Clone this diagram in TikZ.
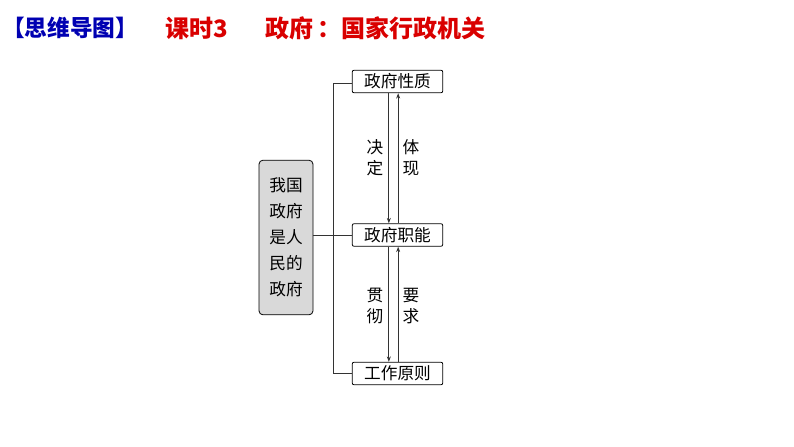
\documentclass[tikz,border=0pt]{standalone}
\usepackage{fontspec}
\usetikzlibrary{arrows.meta}
\newfontfamily\cjk{Noto Sans CJK SC}
\begin{document}
\begin{tikzpicture}[x=0.75pt,y=-0.75pt,
  box/.style={draw,rounded corners=1.5pt,line width=0.6pt,minimum width=68pt,minimum height=17pt,inner sep=0pt,font=\cjk\fontsize{12.5}{14}\selectfont},
  lbl/.style={font=\cjk\fontsize{12.5}{16}\selectfont,align=center,inner sep=0pt},
  ttl/.style={anchor=west,inner sep=0pt,text=red!85!black,font=\cjk\bfseries\fontsize{18}{20}\selectfont},
  ln/.style={line width=0.6pt,draw=black!80}]
\useasboundingbox (0,0) rectangle (794,447);
\node[anchor=west,inner sep=0pt,text=blue!70!black,font=\cjk\bfseries\fontsize{17}{20}\selectfont] (t1) at (2,28) {【思维导图】};
\node[ttl] (t2) at (165,28) {课时3};
\node[ttl] (t3) at (265,28) {政府\,：国家行政机关};
\node[box] (a) at (397.5,81.5) {政府性质};
\node[box] (b) at (397.5,235) {政府职能};
\node[box] (c) at (397.5,373.5) {工作原则};
\node[draw,fill=black!15,rounded corners=3pt,line width=0.6pt,minimum width=40.5pt,minimum height=116pt,inner sep=0pt,align=center,font=\cjk\fontsize{12.5}{19.5}\selectfont] (l) at (286,237.5) {我国\\政府\\是人\\民的\\政府};
\coordinate (k1) at (333,83);
\coordinate (k2) at (333,373);
\draw[ln] (a.west|-k1) -- (k1) -- (k2) -- (c.west|-k2);
\draw[ln] (l.east|-b.west) -- (b.west);
\draw[ln,-{Stealth[length=4pt,width=3pt]}] ([xshift=-6.5pt]a.south) -- ([xshift=-6.5pt]b.north);
\draw[ln,-{Stealth[length=4pt,width=3pt]}] ([xshift=0.5pt]b.north) -- ([xshift=0.5pt]a.south);
\draw[ln,-{Stealth[length=4pt,width=3pt]}] ([xshift=-6.5pt]b.south) -- ([xshift=-6.5pt]c.north);
\draw[ln,-{Stealth[length=4pt,width=3pt]}] ([xshift=0.5pt]c.north) -- ([xshift=0.5pt]b.south);
\node[lbl] (d1) at (375,158) {决\\定};
\node[lbl] (d2) at (411,158) {体\\现};
\node[lbl] (d3) at (375,306) {贯\\彻};
\node[lbl] (d4) at (411,306) {要\\求};
\end{tikzpicture}
\end{document}
